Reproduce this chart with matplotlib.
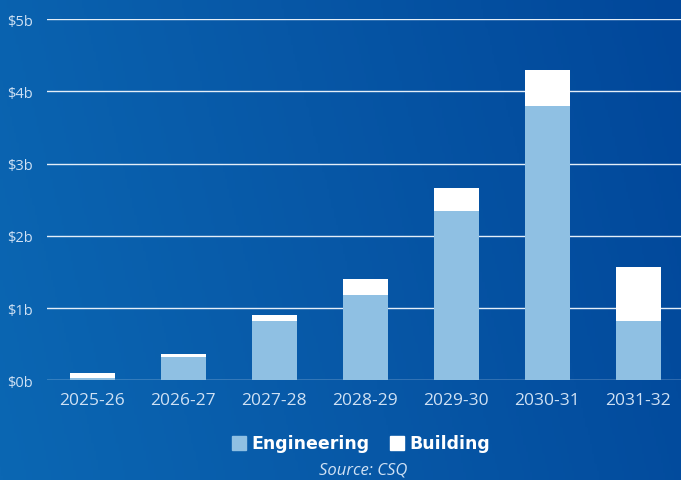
import numpy as np
import matplotlib
matplotlib.use("Agg")
import matplotlib.pyplot as plt
from matplotlib.colors import LinearSegmentedColormap
from matplotlib.patches import Rectangle

years = ["2025-26", "2026-27", "2027-28", "2028-29", "2029-30", "2030-31", "2031-32"]
engineering = [0.04, 0.33, 0.82, 1.18, 2.35, 3.80, 0.82]
building = [0.06, 0.03, 0.09, 0.22, 0.31, 0.49, 0.75]
yticks = [0, 1, 2, 3, 4, 5]
ylabels = ["$0b", "$1b", "$2b", "$3b", "$4b", "$5b"]

ENG = "#8fc0e3"
BLD = "#ffffff"
TXT = "#cfe1f4"

fig = plt.figure(figsize=(6.81, 4.81), dpi=100)

# blue backdrop, lighter on the left, deeper towards the right
bg = fig.add_axes([0, 0, 1, 1], zorder=-10)
cmap = LinearSegmentedColormap.from_list("bg", ["#0b67b3", "#0757a6", "#01479a"])
xx, yy = np.meshgrid(np.linspace(0, 1, 300), np.linspace(0, 1, 200))
bg.imshow(xx * 0.85 + yy * 0.15, cmap=cmap, aspect="auto", extent=[0, 1, 0, 1], origin="lower")
bg.set_axis_off()

ax = fig.add_axes([0.069, 0.207, 0.931, 0.751])
ax.patch.set_alpha(0)
x = np.arange(len(years))
ax.bar(x, engineering, width=0.5, color=ENG, zorder=3)
ax.bar(x, building, width=0.5, bottom=engineering, color=BLD, zorder=3)

ax.set_ylim(0, 5)
ax.set_xlim(-0.5, 6.47)
ax.set_yticks(yticks)
ax.set_yticklabels(ylabels)
ax.set_xticks(x)
ax.set_xticklabels(years)
ax.yaxis.grid(True, color="#e4eef8", linewidth=1.0, zorder=1)
ax.set_axisbelow(True)
for s in ax.spines.values():
    s.set_visible(False)
ax.tick_params(length=0, colors=TXT)
ax.tick_params(axis="y", pad=10, labelsize=10.5)
ax.tick_params(axis="x", pad=8, labelsize=12.5)
for lab in ax.get_xticklabels() + ax.get_yticklabels():
    lab.set_fontfamily("Open Sans")

# legend drawn by hand so the swatches sit flush with the text
leg_y = 0.076
fig.patches.append(Rectangle((232 / 681, leg_y - 0.0145), 14 / 681, 14 / 481,
                             transform=fig.transFigure, color=ENG))
fig.text(251 / 681, leg_y, "Engineering", color="white", fontsize=12.5,
         fontweight="bold", family="DejaVu Sans", va="center", ha="left")
fig.patches.append(Rectangle((390 / 681, leg_y - 0.0145), 14 / 681, 14 / 481,
                             transform=fig.transFigure, color=BLD))
fig.text(409 / 681, leg_y, "Building", color="white", fontsize=12.5,
         fontweight="bold", family="DejaVu Sans", va="center", ha="left")

fig.text(0.534, 0.022, "Source: CSQ", color=TXT, fontsize=12, style="italic",
         family="Open Sans", ha="center", va="center")

fig.savefig("out.png", dpi=100)
